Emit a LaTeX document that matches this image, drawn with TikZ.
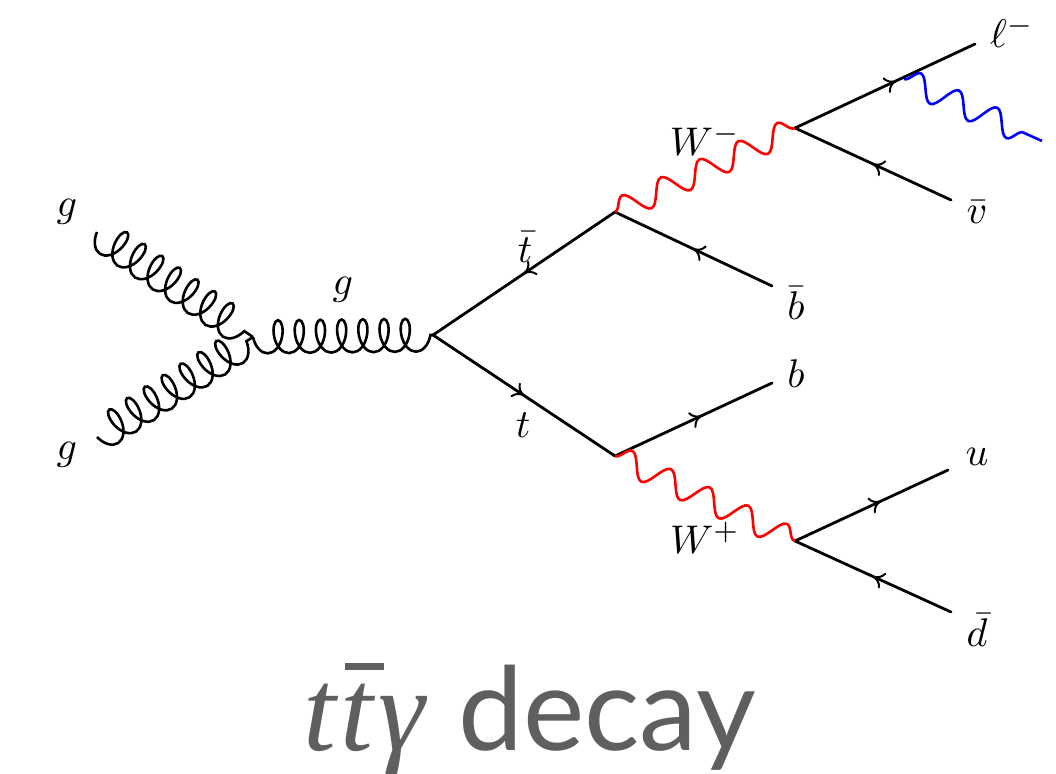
\documentclass[tikz,border=0pt]{standalone}
\usepackage{fontspec}
\setmainfont{Lato}
\newfontface\timesitalic{Liberation Serif Italic}
\usetikzlibrary{arrows.meta,decorations.pathmorphing,decorations.markings,bending}
\definecolor{titlegray}{HTML}{5F5F5F}
\tikzset{
  fermion/.style={draw=black,line width=2.8pt,line cap=round,postaction={decorate},
    decoration={markings,mark=at position #1 with {\arrow{Computer Modern Rightarrow[length=11pt,width=17pt,line width=2pt]}}}},
  fermion/.default=0.55,
  gluon/.style={draw=black,line width=2.6pt,decorate,
    decoration={coil,mirror,aspect=0.56,segment length=21.2pt,amplitude=16.5pt}},
  wboson/.style={draw=red,line width=2.6pt,decorate,
    decoration={snake,segment length=42.8pt,amplitude=12pt}},
  photon/.style={draw=blue,line width=2.6pt,decorate,
    decoration={snake,segment length=41.8pt,amplitude=12pt}},
  lbl/.style={inner sep=0pt,scale=4},
  ttlbl/.style={inner sep=0pt,anchor=base west,text=titlegray},
}
\begin{document}
\begin{tikzpicture}[x=1pt,y=-1pt]
\useasboundingbox (0,0) rectangle (1056,773);
\coordinate (g1) at (97,232);
\coordinate (g2) at (97,437);
\coordinate (gv) at (253,337);
\coordinate (gm) at (433,335);
\coordinate (tv) at (615,212);
\coordinate (bv) at (615,456);
\coordinate (wm) at (795,128);
\coordinate (wp) at (795,541);
\coordinate (lep) at (975,44);
\coordinate (nu) at (951,200);
\coordinate (bb) at (772,286);
\coordinate (bq) at (772,383);
\coordinate (uq) at (948,470);
\coordinate (dq) at (951,612);
\coordinate (pa) at (904,79);
\coordinate (pc) at (1042,141);
% gluons
\path[gluon] (g1) -- (gv);
\path[gluon] (g2) -- (gv);
\path[gluon] (gv) -- (gm);
% fermions
\path[fermion=0.5] (tv) -- (gm);
\path[fermion=0.5] (gm) -- (bv);
\path[fermion=0.5] (bb) -- (tv);
\path[fermion=0.55] (bv) -- (bq);
\path[fermion=0.56] (wm) -- (lep);
\path[fermion=0.5] (nu) -- (wm);
\path[fermion=0.56] (wp) -- (uq);
\path[fermion=0.5] (dq) -- (wp);
% bosons
\path[wboson] (tv) -- (wm);
\path[wboson] (bv) -- (wp);
\path[photon] (pa) -- (pc);
% labels
\node[lbl] (lg1) at (67,212) {$g$};
\node[lbl] (lg2) at (67,455) {$g$};
\node[lbl] (lg3) at (343,290) {$g$};
\node[lbl] (ltb) at (525,247) {$\bar t$};
\node[lbl] (lt) at (523,425) {$t$};
\node[lbl] (lwm) at (705,140) {$W^-$};
\node[lbl] (lwp) at (705,538) {$W^+$};
\node[lbl] (lbb) at (796,303) {$\bar b$};
\node[lbl] (lbq) at (796,374) {$b$};
\node[lbl] (ll) at (1012,32) {$\ell^-$};
\node[lbl] (lnu) at (977,212) {$\bar v$};
\node[lbl] (lu) at (977,457) {$u$};
\node[lbl] (ld) at (977,630) {$\bar d$};
% title
\node[ttlbl] (ttl) at (303,750) {\fontsize{118}{130}\selectfont\timesitalic t\kern5pt\rlap{\kern4pt\raisebox{80pt}{\rule{39pt}{7pt}}}t\kern5ptγ};
\node[ttlbl] (ttr) at (458,750) {\fontsize{116}{130}\selectfont decay};
\end{tikzpicture}
\end{document}
